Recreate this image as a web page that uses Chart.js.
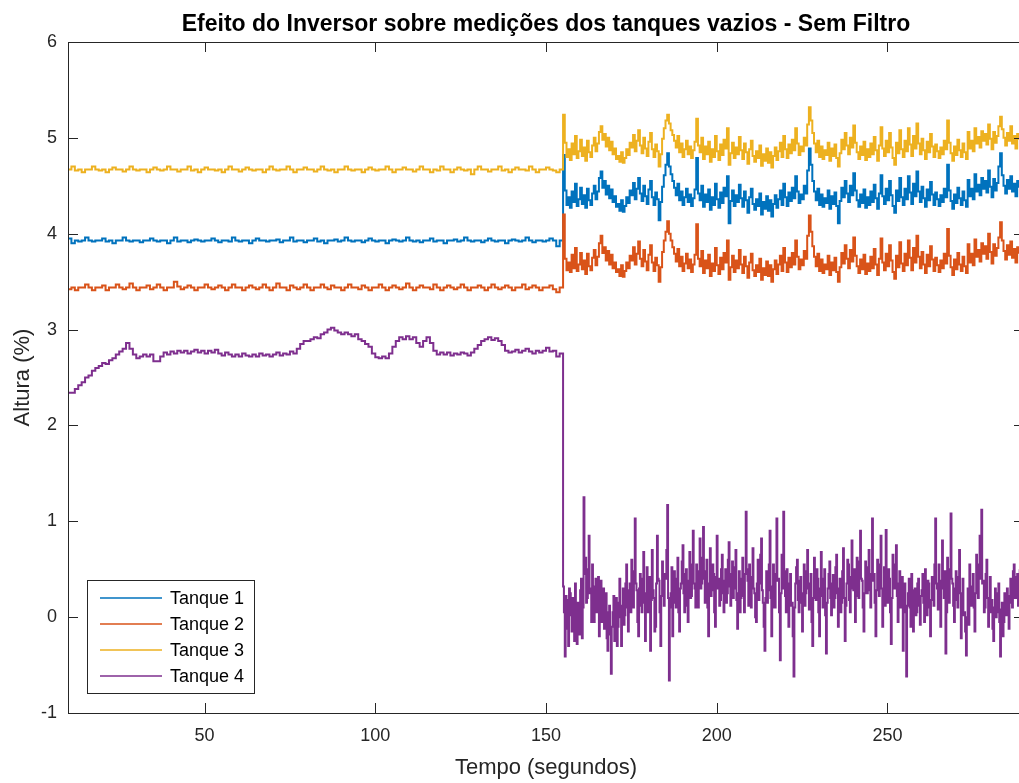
<!DOCTYPE html>
<html>
<head>
<meta charset="utf-8">
<title>Efeito do Inversor - Sem Filtro</title>
<script src="https://cdn.jsdelivr.net/npm/chart.js@4.4.1/dist/chart.umd.min.js"></script>
<style>
  html, body { margin: 0; padding: 0; background: #fff; overflow: hidden; }
  canvas { display: block; }
</style>
</head>
<body>
<!-- the original figure is cropped on the right, so the canvas is a little wider than the window -->
<canvas id="chart" width="1025" height="783"></canvas>
<script>
const FONT = "'Liberation Sans', Arial, Helvetica, sans-serif"
const INK = '#262626'

const title = 'Efeito do Inversor sobre medições dos tanques vazios - Sem Filtro'
const xLabel = 'Tempo (segundos)'
const yLabel = 'Altura (%)'
const seriesNames = [ 'Tanque 1', 'Tanque 2', 'Tanque 3', 'Tanque 4' ]
const seriesColors = [ '#0072BD', '#D95319', '#EDB120', '#7E2F8E' ]
const xTicks = [ 50, 100, 150, 200, 250 ]
const yTicks = [ -1, 0, 1, 2, 3, 4, 5, 6 ]

// inverter off: one sample per second from t = 10 s
const preStart = 10
const preStep = 1
// inverter on: from t = 155 s, tanks 1-3 every 0.5 s, tank 4 every 0.25 s
const postStart = 155
const postStep = 0.5
const postStepTanque4 = 0.25

const tanque1Antes = [
   3.95, 3.90, 3.93, 3.92, 3.93, 3.96, 3.93, 3.92, 3.93, 3.93,
   3.95, 3.92, 3.93, 3.90, 3.93, 3.93, 3.96, 3.93, 3.92, 3.93,
   3.93, 3.91, 3.93, 3.93, 3.95, 3.93, 3.92, 3.93, 3.93, 3.90,
   3.93, 3.96, 3.92, 3.93, 3.93, 3.91, 3.93, 3.94, 3.93, 3.92,
   3.93, 3.93, 3.95, 3.93, 3.91, 3.93, 3.93, 3.92, 3.96, 3.93,
   3.92, 3.93, 3.93, 3.90, 3.93, 3.95, 3.93, 3.93, 3.92, 3.93,
   3.93, 3.94, 3.91, 3.93, 3.93, 3.96, 3.92, 3.93, 3.93, 3.91,
   3.93, 3.93, 3.95, 3.92, 3.93, 3.90, 3.93, 3.93, 3.94, 3.92,
   3.93, 3.96, 3.93, 3.92, 3.93, 3.93, 3.91, 3.93, 3.95, 3.93,
   3.92, 3.93, 3.93, 3.90, 3.93, 3.94, 3.93, 3.92, 3.93, 3.96,
   3.93, 3.92, 3.93, 3.91, 3.93, 3.93, 3.95, 3.92, 3.93, 3.93,
   3.90, 3.93, 3.93, 3.94, 3.92, 3.93, 3.96, 3.93, 3.92, 3.93,
   3.93, 3.91, 3.93, 3.95, 3.93, 3.92, 3.93, 3.93, 3.90, 3.93,
   3.94, 3.93, 3.92, 3.93, 3.96, 3.93, 3.91, 3.93, 3.93, 3.92,
   3.93, 3.95, 3.93, 3.87, 3.93,
]
const tanque1Depois = [
   4.82, 4.45, 4.30, 4.38, 4.27, 4.44, 4.33, 4.52, 4.29, 4.36, 4.48, 4.31, 4.40, 4.27, 4.47, 4.35, 4.30, 4.42, 4.50, 4.36,
   4.44, 4.58, 4.65, 4.48, 4.55, 4.41, 4.50, 4.37, 4.46, 4.33, 4.39, 4.28, 4.31, 4.24, 4.35, 4.23, 4.29, 4.38, 4.32, 4.45,
   4.40, 4.53, 4.36, 4.47, 4.58, 4.42, 4.34, 4.50, 4.39, 4.31, 4.46, 4.55, 4.38, 4.30, 4.43, 4.36, 4.14, 4.33, 4.49, 4.61,
   4.72, 4.84, 4.70, 4.62, 4.55, 4.48, 4.40, 4.52, 4.35, 4.44, 4.30, 4.38, 4.47, 4.33, 4.41, 4.29, 4.37, 4.46, 4.79, 4.42,
   4.35, 4.50, 4.28, 4.41, 4.33, 4.46, 4.25, 4.38, 4.30, 4.52, 4.36, 4.27, 4.43, 4.32, 4.48, 4.39, 4.60, 4.11, 4.34, 4.45,
   4.29, 4.40, 4.33, 4.51, 4.37, 4.28, 4.44, 4.35, 4.22, 4.38, 4.47, 4.31, 4.25, 4.36, 4.29, 4.42, 4.20, 4.33, 4.26, 4.39,
   4.24, 4.35, 4.18, 4.31, 4.40, 4.27, 4.36, 4.45, 4.30, 4.52, 4.38, 4.29, 4.43, 4.34, 4.48, 4.37, 4.60, 4.44, 4.32, 4.41,
   4.36, 4.50, 4.42, 4.66, 4.89, 4.72, 4.55, 4.44, 4.35, 4.47, 4.30, 4.41, 4.28, 4.37, 4.32, 4.45, 4.26, 4.39, 4.31, 4.43,
   4.29, 4.11, 4.34, 4.48, 4.38, 4.55, 4.42, 4.33, 4.50, 4.40, 4.63, 4.45, 4.35, 4.28, 4.41, 4.32, 4.46, 4.27, 4.38, 4.30,
   4.44, 4.33, 4.51, 4.37, 4.26, 4.42, 4.61, 4.39, 4.31, 4.47, 4.35, 4.55, 4.40, 4.29, 4.22, 4.45, 4.34, 4.58, 4.38, 4.30,
   4.47, 4.36, 4.60, 4.43, 4.31, 4.52, 4.39, 4.65, 4.44, 4.33, 4.49, 4.37, 4.28, 4.46, 4.35, 4.54, 4.41, 4.30, 4.43, 4.36,
   4.29, 4.40, 4.33, 4.47, 4.38, 4.72, 4.45, 4.34, 4.26, 4.41, 4.32, 4.48, 4.37, 4.30, 4.44, 4.35, 4.28, 4.56, 4.39, 4.47,
   4.36, 4.62, 4.44, 4.51, 4.40, 4.58, 4.47, 4.55, 4.43, 4.66, 4.49, 4.38, 4.57, 4.45, 4.53, 4.70, 4.84, 4.61, 4.50, 4.42,
   4.56, 4.47, 4.60, 4.44, 4.52, 4.39, 4.55, 4.48,
]

const tanque2Antes = [
   3.42, 3.44, 3.41, 3.44, 3.44, 3.47, 3.44, 3.41, 3.44, 3.44,
   3.46, 3.41, 3.44, 3.44, 3.47, 3.44, 3.42, 3.44, 3.48, 3.44,
   3.41, 3.44, 3.44, 3.46, 3.42, 3.44, 3.47, 3.44, 3.41, 3.44,
   3.44, 3.50, 3.45, 3.42, 3.44, 3.46, 3.44, 3.41, 3.44, 3.44,
   3.47, 3.44, 3.42, 3.44, 3.46, 3.44, 3.41, 3.44, 3.47, 3.44,
   3.44, 3.41, 3.44, 3.46, 3.44, 3.42, 3.44, 3.47, 3.44, 3.41,
   3.44, 3.48, 3.44, 3.44, 3.41, 3.46, 3.44, 3.42, 3.44, 3.47,
   3.44, 3.41, 3.44, 3.44, 3.47, 3.44, 3.42, 3.46, 3.44, 3.44,
   3.41, 3.44, 3.47, 3.44, 3.44, 3.42, 3.46, 3.44, 3.41, 3.44,
   3.44, 3.47, 3.44, 3.41, 3.44, 3.46, 3.44, 3.42, 3.44, 3.48,
   3.44, 3.41, 3.44, 3.46, 3.44, 3.44, 3.42, 3.47, 3.44, 3.41,
   3.44, 3.46, 3.44, 3.42, 3.44, 3.47, 3.44, 3.41, 3.44, 3.44,
   3.46, 3.44, 3.41, 3.44, 3.47, 3.44, 3.42, 3.44, 3.46, 3.44,
   3.41, 3.44, 3.44, 3.47, 3.42, 3.44, 3.46, 3.44, 3.41, 3.44,
   3.44, 3.46, 3.42, 3.39, 3.44,
]
const tanque2Depois = [
   4.20, 3.74, 3.62, 3.70, 3.60, 3.78, 3.64, 3.85, 3.61, 3.68, 3.80, 3.63, 3.72, 3.58, 3.79, 3.66, 3.62, 3.75, 3.83, 3.67,
   3.76, 3.90, 3.98, 3.80, 3.86, 3.72, 3.82, 3.68, 3.78, 3.64, 3.70, 3.60, 3.63, 3.56, 3.67, 3.55, 3.61, 3.70, 3.64, 3.77,
   3.72, 3.86, 3.68, 3.79, 3.92, 3.74, 3.66, 3.83, 3.71, 3.62, 3.78, 3.88, 3.70, 3.61, 3.75, 3.67, 3.50, 3.65, 3.81, 3.93,
   4.02, 4.13, 4.00, 3.93, 3.86, 3.79, 3.71, 3.84, 3.66, 3.76, 3.61, 3.69, 3.79, 3.64, 3.73, 3.60, 3.68, 3.78, 4.10, 3.74,
   3.66, 3.82, 3.59, 3.72, 3.64, 3.78, 3.56, 3.69, 3.61, 3.85, 3.67, 3.58, 3.75, 3.63, 3.80, 3.70, 3.93, 3.52, 3.65, 3.77,
   3.60, 3.72, 3.64, 3.83, 3.68, 3.59, 3.76, 3.66, 3.54, 3.70, 3.79, 3.62, 3.56, 3.67, 3.60, 3.74, 3.52, 3.64, 3.57, 3.71,
   3.56, 3.67, 3.50, 3.63, 3.72, 3.58, 3.68, 3.77, 3.61, 3.85, 3.70, 3.60, 3.75, 3.65, 3.80, 3.68, 3.93, 3.76, 3.63, 3.73,
   3.67, 3.82, 3.74, 3.98, 4.19, 4.02, 3.87, 3.76, 3.66, 3.79, 3.61, 3.73, 3.59, 3.68, 3.63, 3.77, 3.57, 3.70, 3.62, 3.75,
   3.60, 3.50, 3.65, 3.80, 3.69, 3.88, 3.74, 3.64, 3.83, 3.71, 3.96, 3.77, 3.66, 3.59, 3.73, 3.63, 3.78, 3.58, 3.69, 3.61,
   3.76, 3.64, 3.84, 3.68, 3.57, 3.74, 3.95, 3.70, 3.62, 3.79, 3.66, 3.88, 3.72, 3.60, 3.53, 3.77, 3.65, 3.91, 3.69, 3.61,
   3.79, 3.67, 3.93, 3.75, 3.62, 3.85, 3.70, 3.98, 3.76, 3.64, 3.81, 3.68, 3.59, 3.78, 3.66, 3.87, 3.73, 3.61, 3.75, 3.67,
   3.60, 3.72, 3.64, 3.79, 3.69, 4.05, 3.77, 3.65, 3.57, 3.73, 3.63, 3.80, 3.68, 3.61, 3.76, 3.66, 3.59, 3.89, 3.70, 3.79,
   3.67, 3.94, 3.76, 3.83, 3.71, 3.90, 3.79, 3.87, 3.74, 4.00, 3.81, 3.69, 3.89, 3.77, 3.85, 3.96, 4.12, 3.93, 3.82, 3.73,
   3.88, 3.78, 3.92, 3.75, 3.84, 3.70, 3.86, 3.79,
]

const tanque3Antes = [
   4.67, 4.70, 4.66, 4.67, 4.64, 4.67, 4.67, 4.70, 4.67, 4.66,
   4.67, 4.64, 4.67, 4.69, 4.67, 4.67, 4.65, 4.67, 4.70, 4.67,
   4.66, 4.67, 4.67, 4.64, 4.67, 4.69, 4.67, 4.66, 4.67, 4.70,
   4.67, 4.67, 4.65, 4.67, 4.67, 4.70, 4.66, 4.67, 4.64, 4.67,
   4.69, 4.67, 4.67, 4.66, 4.67, 4.64, 4.67, 4.70, 4.67, 4.67,
   4.65, 4.67, 4.69, 4.67, 4.66, 4.67, 4.67, 4.64, 4.67, 4.70,
   4.67, 4.66, 4.67, 4.67, 4.70, 4.67, 4.64, 4.67, 4.67, 4.69,
   4.67, 4.67, 4.65, 4.67, 4.70, 4.67, 4.66, 4.67, 4.64, 4.67,
   4.67, 4.70, 4.67, 4.66, 4.67, 4.67, 4.64, 4.67, 4.69, 4.67,
   4.66, 4.67, 4.67, 4.70, 4.67, 4.64, 4.67, 4.67, 4.69, 4.67,
   4.67, 4.65, 4.67, 4.70, 4.67, 4.67, 4.64, 4.67, 4.66, 4.70,
   4.67, 4.67, 4.64, 4.67, 4.69, 4.67, 4.66, 4.67, 4.62, 4.67,
   4.70, 4.67, 4.67, 4.65, 4.67, 4.67, 4.70, 4.66, 4.67, 4.64,
   4.67, 4.69, 4.67, 4.67, 4.66, 4.70, 4.67, 4.64, 4.67, 4.67,
   4.69, 4.67, 4.66, 4.64, 4.67,
]
const tanque3Depois = [
   5.24, 4.95, 4.80, 4.88, 4.77, 4.94, 4.83, 5.02, 4.79, 4.86, 4.98, 4.81, 4.90, 4.76, 4.97, 4.85, 4.80, 4.92, 5.00, 4.86,
   4.94, 5.06, 5.12, 4.98, 5.04, 4.91, 5.00, 4.87, 4.96, 4.83, 4.89, 4.78, 4.81, 4.75, 4.85, 4.74, 4.79, 4.88, 4.82, 4.95,
   4.90, 5.03, 4.86, 4.97, 5.08, 4.92, 4.84, 5.00, 4.89, 4.81, 4.96, 5.05, 4.88, 4.80, 4.93, 4.86, 4.70, 4.83, 4.99, 5.10,
   5.18, 5.24, 5.15, 5.08, 5.03, 4.97, 4.90, 5.02, 4.85, 4.94, 4.80, 4.88, 4.97, 4.83, 4.91, 4.79, 4.87, 4.96, 5.20, 4.92,
   4.85, 5.00, 4.78, 4.91, 4.83, 4.96, 4.75, 4.88, 4.80, 5.02, 4.86, 4.77, 4.93, 4.82, 4.98, 4.89, 5.10, 4.72, 4.84, 4.95,
   4.79, 4.90, 4.83, 5.01, 4.87, 4.78, 4.94, 4.85, 4.73, 4.88, 4.97, 4.81, 4.75, 4.86, 4.79, 4.92, 4.71, 4.83, 4.76, 4.89,
   4.74, 4.85, 4.69, 4.81, 4.90, 4.77, 4.86, 4.95, 4.80, 5.02, 4.88, 4.79, 4.93, 4.84, 4.98, 4.87, 5.10, 4.94, 4.82, 4.91,
   4.86, 5.00, 4.92, 5.14, 5.32, 5.18, 5.05, 4.94, 4.85, 4.97, 4.80, 4.91, 4.78, 4.87, 4.82, 4.95, 4.76, 4.89, 4.81, 4.93,
   4.79, 4.70, 4.84, 4.98, 4.88, 5.05, 4.92, 4.83, 5.00, 4.90, 5.13, 4.95, 4.85, 4.78, 4.91, 4.82, 4.96, 4.77, 4.88, 4.80,
   4.94, 4.83, 5.01, 4.87, 4.76, 4.92, 5.11, 4.89, 4.81, 4.97, 4.85, 5.05, 4.90, 4.79, 4.72, 4.95, 4.84, 5.08, 4.88, 4.80,
   4.97, 4.86, 5.10, 4.93, 4.81, 5.02, 4.89, 5.15, 4.94, 4.83, 4.99, 4.87, 4.78, 4.96, 4.85, 5.04, 4.91, 4.80, 4.93, 4.86,
   4.79, 4.90, 4.83, 4.97, 4.88, 5.18, 4.95, 4.84, 4.76, 4.91, 4.82, 4.98, 4.87, 4.80, 4.94, 4.85, 4.78, 5.06, 4.89, 4.97,
   4.86, 5.10, 4.94, 5.01, 4.90, 5.07, 4.97, 5.04, 4.93, 5.14, 4.99, 4.88, 5.06, 4.95, 5.02, 5.12, 5.22, 5.09, 5.00, 4.92,
   5.05, 4.97, 5.12, 4.94, 5.02, 4.89, 5.04, 4.98,
]

const tanque4Antes = [
   2.34, 2.34, 2.38, 2.42, 2.45, 2.50, 2.52, 2.57, 2.60, 2.62,
   2.65, 2.64, 2.68, 2.70, 2.74, 2.77, 2.80, 2.86, 2.80, 2.74,
   2.70, 2.72, 2.74, 2.72, 2.74, 2.67, 2.67, 2.72, 2.76, 2.74,
   2.77, 2.75, 2.78, 2.76, 2.78, 2.75, 2.77, 2.79, 2.76, 2.78,
   2.75, 2.78, 2.76, 2.79, 2.75, 2.73, 2.76, 2.74, 2.72, 2.74,
   2.72, 2.75, 2.73, 2.72, 2.74, 2.72, 2.75, 2.73, 2.74, 2.72,
   2.74, 2.76, 2.73, 2.75, 2.74, 2.77, 2.75, 2.80, 2.85, 2.88,
   2.88, 2.90, 2.92, 2.91, 2.95, 2.97, 3.00, 3.02, 2.99, 2.97,
   2.95, 2.97, 2.95, 2.93, 2.95, 2.90, 2.88, 2.85, 2.82, 2.75,
   2.71, 2.70, 2.72, 2.70, 2.75, 2.82, 2.88, 2.92, 2.90, 2.93,
   2.90, 2.92, 2.86, 2.82, 2.88, 2.92, 2.86, 2.78, 2.74, 2.76,
   2.74, 2.76, 2.73, 2.75, 2.74, 2.76, 2.75, 2.73, 2.76, 2.80,
   2.84, 2.88, 2.90, 2.92, 2.89, 2.91, 2.88, 2.84, 2.78, 2.76,
   2.77, 2.79, 2.76, 2.78, 2.80, 2.77, 2.75, 2.78, 2.76, 2.78,
   2.81, 2.77, 2.78, 2.72, 2.75,
]
const tanque4Depois = [
   0.32, 0.05, -0.41, 0.22, 0.18, -0.12, -0.30, 0.30, 0.25, 0.02, -0.15, 0.20, 0.10, -0.25, 0.35, 0.08, -0.28, 0.15, 0.05, -0.18,
   0.28, 0.40, -0.22, 0.10, 1.25, 0.45, 0.62, 0.15, 0.20, 0.50, 0.85, 0.25, 0.30, -0.05, 0.55, 0.20, -0.05, 0.32, 0.40, 0.05,
   0.15, 0.42, -0.20, 0.10, 0.38, -0.05, 0.02, 0.30, -0.12, 0.18, 0.25, -0.22, -0.35, 0.05, 0.12, -0.18, -0.59, -0.10, 0.05, 0.22,
   -0.25, 0.08, 0.20, -0.30, -0.10, 0.15, 0.40, 0.00, -0.30, 0.12, 0.30, -0.08, 0.02, 0.35, 0.55, 0.10, -0.15, 0.28, 0.35, 0.05,
   0.60, 0.22, 0.10, 0.48, 1.03, 0.35, 0.28, -0.05, -0.20, 0.30, 0.45, 0.12, 0.05, 0.40, 0.68, 0.15, -0.25, 0.25, 0.52, 0.05,
   0.15, 0.42, -0.35, 0.18, 0.70, 0.28, 0.20, -0.15, -0.10, 0.35, 0.85, 0.40, 0.38, 0.05, -0.30, 0.22, 0.58, 0.30, 0.12, 0.45,
   0.40, 0.70, 1.17, 0.20, -0.66, 0.10, 0.25, 0.52, -0.20, 0.15, 0.48, 0.22, 0.10, 0.40, 0.62, 0.05, -0.15, 0.30, 0.35, 0.58,
   0.75, 0.25, 0.05, 0.45, 0.50, 0.12, -0.05, 0.38, 0.68, 0.20, 0.22, 0.55, 0.90, 0.35, 0.30, 0.10, 0.55, 0.28, 0.10, 0.48,
   0.82, 0.30, 0.35, 0.62, 0.94, 0.40, 0.15, 0.48, 0.60, 0.10, -0.20, 0.35, 0.72, 0.22, 0.28, 0.55, 0.45, 0.05, -0.10, 0.42,
   0.85, 0.30, 0.40, 0.12, 0.18, 0.50, 0.65, 0.25, 0.05, 0.38, 0.50, 0.15, 0.25, 0.60, 0.78, 0.32, 0.12, 0.45, 0.58, 0.20,
   0.30, 0.52, 0.70, 0.18, -0.12, 0.25, 0.48, 0.05, 0.20, 0.40, 0.62, 0.22, 0.05, 0.45, 1.10, 0.50, 0.38, 0.12, 0.55, 0.28,
   0.10, 0.42, 0.72, 0.30, 0.25, 0.00, -0.05, 0.35, 0.60, 0.18, 0.35, 0.65, 0.82, 0.28, 0.15, -0.10, -0.35, 0.20, 0.48, 0.15,
   0.28, 0.55, 0.90, 0.20, -0.20, 0.32, 0.55, 0.10, 0.10, 0.45, 1.03, 0.38, 0.40, 0.05, -0.45, 0.25, 0.65, 0.30, 1.10, 0.48,
   0.22, 0.05, 0.50, 0.28, -0.10, 0.35, 0.45, 0.12, 0.15, -0.20, -0.62, 0.10, 0.35, 0.52, 0.60, 0.18, 0.05, 0.38, 0.42, 0.15,
   -0.15, 0.25, 0.55, 0.12, 0.25, 0.48, 0.70, 0.30, 0.08, 0.35, 0.45, -0.05, -0.30, 0.20, 0.62, 0.28, 0.18, 0.50, 0.40, 0.05,
   -0.20, 0.30, 0.68, 0.22, 0.10, 0.40, 0.50, 0.02, -0.38, 0.15, 0.30, 0.45, 0.58, 0.20, 0.02, 0.35, 0.44, 0.10, 0.20, 0.52,
   0.65, 0.25, -0.10, 0.30, 0.40, 0.05, 0.15, 0.48, 0.72, 0.20, -0.25, 0.12, 0.35, 0.60, 0.55, 0.18, 0.05, 0.42, 0.80, 0.30,
   0.28, 0.50, -0.05, 0.22, 0.62, 0.35, 0.20, 0.58, 0.90, 0.40, 0.38, 0.10, -0.15, 0.25, 0.58, 0.30, 0.25, 0.52, 0.70, 0.28,
   0.10, 0.45, 1.03, 0.38, 0.45, 0.15, -0.20, 0.28, 0.60, 0.35, 0.22, 0.55, 0.85, 0.30, -0.10, 0.25, 0.52, 0.12, 0.91, 0.40,
   0.15, 0.50, 0.40, 0.05, -0.28, 0.20, 0.65, 0.30, 0.30, 0.55, 0.75, 0.22, -0.05, 0.35, 0.48, 0.10, 0.20, 0.42, -0.35, 0.15,
   0.35, 0.05, -0.62, 0.12, 0.25, 0.40, 0.10, -0.10, 0.45, 0.20, -0.15, 0.28, 0.30, 0.02, 0.05, 0.35, 0.40, 0.12, -0.08, 0.22,
   0.28, 0.45, 0.15, -0.05, 0.50, 0.25, 0.02, 0.38, 0.35, 0.10, -0.20, 0.18, 0.42, 0.30, 0.12, 0.55, 1.03, 0.35, 0.30, 0.08,
   0.55, 0.20, -0.10, 0.38, 0.80, 0.30, 0.20, 0.48, -0.38, 0.05, 0.62, 0.25, 0.15, 0.50, 1.08, 0.40, 0.35, 0.12, -0.05, 0.30,
   0.48, 0.18, 0.10, 0.42, 0.70, 0.25, -0.22, 0.10, 0.40, 0.02, 0.05, -0.15, -0.40, 0.00, 0.30, -0.08, 0.55, 0.15, 0.12, 0.32,
   0.45, 0.10, -0.15, 0.25, 0.65, 0.30, 0.20, 0.55, 0.85, 0.40, 1.12, 0.35, 0.38, 0.05, 0.10, 0.45, 0.60, 0.20, -0.10, 0.15,
   0.42, 0.05, 0.18, -0.12, -0.25, 0.10, 0.30, 0.00, 0.05, 0.25, 0.35, -0.05, -0.41, 0.08, 0.15, -0.20, -0.05, 0.25, 0.22, 0.02,
   0.30, 0.05, -0.12, 0.22, 0.40, 0.15, 0.10, 0.48, 0.55, 0.20, 0.20, 0.42, 0.45, 0.12, 0.28, 0.50,
]

const series = [
   [ tanque1Antes, tanque1Depois, postStep ],
   [ tanque2Antes, tanque2Depois, postStep ],
   [ tanque3Antes, tanque3Depois, postStep ],
   [ tanque4Antes, tanque4Depois, postStepTanque4 ],
]

function toPoints( antes, depois, step ) {
   const points = antes.map( ( y, i ) => ( { x: preStart + i * preStep, y } ) )
   depois.forEach( ( y, i ) => points.push( { x: postStart + i * step, y } ) )
   return points
}

// MATLAB-like box: frame, inward ticks, titles and legend
const matlabAxes = {
   id: 'matlab_axes',
   afterDraw( chart ) {
      const { ctx, chartArea: area, scales } = chart
      const tick = 10

      ctx.save()
      ctx.strokeStyle = INK
      ctx.lineWidth = 1
      ctx.strokeRect( area.left + 0.5, area.top + 0.5, area.right - area.left, area.bottom - area.top )

      ctx.beginPath()
      xTicks.forEach( ( v ) => {
         const x = Math.round( scales.x.getPixelForValue( v ) ) + 0.5
         ctx.moveTo( x, area.bottom ); ctx.lineTo( x, area.bottom - tick )
         ctx.moveTo( x, area.top ); ctx.lineTo( x, area.top + tick )
      } )
      yTicks.forEach( ( v ) => {
         const y = Math.round( scales.y.getPixelForValue( v ) ) + 0.5
         ctx.moveTo( area.left, y ); ctx.lineTo( area.left + tick, y )
         ctx.moveTo( area.right, y ); ctx.lineTo( area.right - tick, y )
      } )
      ctx.stroke()

      // titles
      const midX = ( area.left + area.right ) / 2
      ctx.fillStyle = '#000'
      ctx.textAlign = 'center'
      ctx.textBaseline = 'alphabetic'
      ctx.font = `bold 23px ${FONT}`
      ctx.fillText( title, midX, 31 )

      ctx.fillStyle = INK
      ctx.font = `22px ${FONT}`
      ctx.fillText( xLabel, midX, 774 )

      ctx.save()
      ctx.translate( 29, ( area.top + area.bottom ) / 2 )
      ctx.rotate( -Math.PI / 2 )
      ctx.fillText( yLabel, 0, 0 )
      ctx.restore()

      // legend
      const box = { x: area.left + 19, y: area.bottom - 133, w: 167, h: 113 }
      ctx.fillStyle = '#fff'
      ctx.fillRect( box.x, box.y, box.w, box.h )
      ctx.strokeStyle = INK
      ctx.strokeRect( box.x + 0.5, box.y + 0.5, box.w, box.h )

      ctx.font = `18px ${FONT}`
      ctx.textAlign = 'left'
      ctx.textBaseline = 'middle'
      chart.data.datasets.forEach( ( ds, i ) => {
         const y = box.y + 18 + i * 26
         ctx.strokeStyle = ds.borderColor
         ctx.lineWidth = 1.5
         ctx.beginPath()
         ctx.moveTo( box.x + 13, y )
         ctx.lineTo( box.x + 75, y )
         ctx.stroke()
         ctx.fillStyle = '#000'
         ctx.fillText( ds.label, box.x + 83, y + 1 )
      } )

      ctx.restore()
   },
}

const datasets = series.map( ( [ antes, depois, step ], i ) => ( {
   label: seriesNames[ i ],
   data: toPoints( antes, depois, step ),
   borderColor: seriesColors[ i ],
   backgroundColor: seriesColors[ i ],
   borderWidth: 2,
   pointRadius: 0,
   stepped: true,
   order: series.length - i,
} ) )

const tickFont = { family: FONT, size: 18 }

new Chart( document.getElementById( 'chart' ), {
   type: 'line',
   data: { datasets },
   plugins: [ matlabAxes ],
   options: {
      responsive: false,
      animation: false,
      layout: { padding: { top: 42, right: 1, bottom: 0, left: 0 } },
      plugins: {
         legend: { display: false },
         title: { display: false },
         tooltip: { enabled: false },
      },
      scales: {
         x: {
            type: 'linear',
            min: 10,
            max: 290,
            afterBuildTicks: ( scale ) => { scale.ticks = xTicks.map( ( value ) => ( { value } ) ) },
            afterFit: ( scale ) => { scale.height = 70 },
            grid: { display: false },
            border: { display: false },
            ticks: { font: tickFont, color: INK, padding: 4, maxRotation: 0, autoSkip: false },
         },
         y: {
            type: 'linear',
            min: -1,
            max: 6,
            afterBuildTicks: ( scale ) => { scale.ticks = yTicks.map( ( value ) => ( { value } ) ) },
            afterFit: ( scale ) => { scale.width = 68 },
            grid: { display: false },
            border: { display: false },
            ticks: { font: tickFont, color: INK, padding: 3, autoSkip: false },
         },
      },
   },
} )
</script>
</body>
</html>
